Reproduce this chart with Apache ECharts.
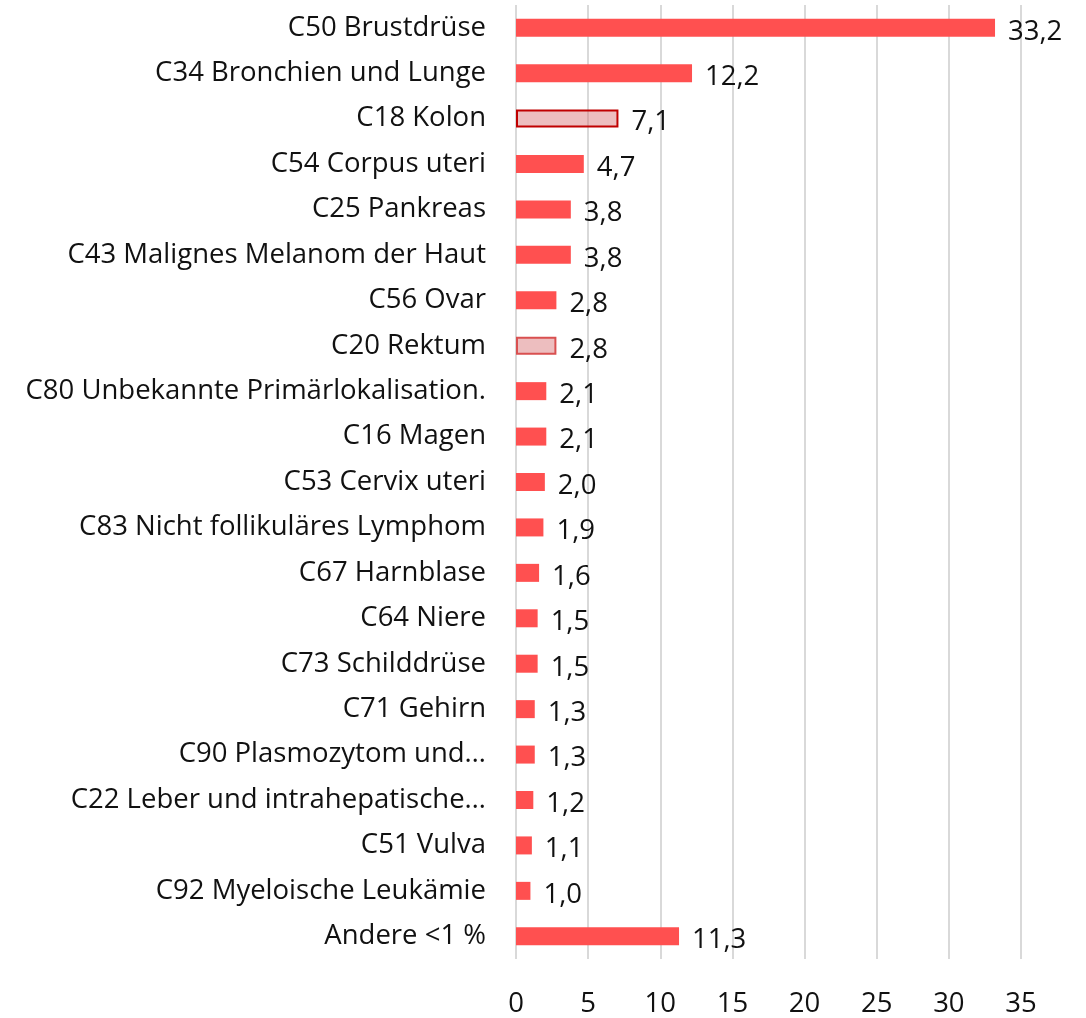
<!DOCTYPE html>
<html lang="de">
<head>
  <meta charset="UTF-8">
  <title>Krebsneuerkrankungen</title>
  <style>
    body{
      margin: 0;
      background-color: #fff;
    }
    #chart{
      width: 1086px;
      height: 1018px;
    }
  </style>
</head>
<body>
  <div id="chart"></div>
  <script src="https://cdn.jsdelivr.net/npm/echarts/dist/echarts.min.js"></script>
  <script>
// Lokalisationen, von oben nach unten
const categories = [
  'C50 Brustdrüse',
  'C34 Bronchien und Lunge',
  'C18 Kolon',
  'C54 Corpus uteri',
  'C25 Pankreas',
  'C43 Malignes Melanom der Haut',
  'C56 Ovar',
  'C20 Rektum',
  'C80 Unbekannte Primärlokalisation.',
  'C16 Magen',
  'C53 Cervix uteri',
  'C83 Nicht follikuläres Lymphom',
  'C67 Harnblase',
  'C64 Niere',
  'C73 Schilddrüse',
  'C71 Gehirn',
  'C90 Plasmozytom und…',
  'C22 Leber und intrahepatische…',
  'C51 Vulva',
  'C92 Myeloische Leukämie',
  'Andere <1 %'
];
const values = [33.2, 12.2, 7.1, 4.7, 3.8, 3.8, 2.8, 2.8, 2.1, 2.1, 2.0, 1.9, 1.6, 1.5, 1.5, 1.3, 1.3, 1.2, 1.1, 1.0, 11.3];
// hervorgehobene Balken (Darm)
const highlighted = ['C18 Kolon', 'C20 Rektum'];
const xTicks = [0, 5, 10, 15, 20, 25, 30, 35];

const font = 'Open Sans';
const fs = 27.5;
const chart = echarts.init(document.getElementById('chart'));

const barData = values.map((v, i) => {
  const name = categories[i];
  if (!highlighted.includes(name)) return v;
  return {
    value: v,
    itemStyle: {
      color: 'rgba(214, 110, 112, 0.45)',
      borderColor: name === 'C18 Kolon' ? '#c00000' : '#d95050',
      borderWidth: 2
    }
  };
});

chart.setOption({
  animation: false,
  grid: { left: 516, right: 65, top: 5, bottom: 57, containLabel: false },
  xAxis: {
    type: 'value',
    min: xTicks[0],
    max: xTicks[xTicks.length - 1],
    interval: 5,
    axisLine: { show: false },
    axisTick: { show: false },
    axisLabel: { margin: 31, fontSize: fs, fontFamily: font, color: '#111' },
    splitLine: { lineStyle: { color: '#d9d9d9', width: 2 } }
  },
  yAxis: {
    type: 'category',
    data: categories,
    inverse: true,
    axisLine: { show: false },
    axisTick: { show: false },
    axisLabel: { margin: 30, fontSize: fs, fontFamily: font, color: '#111' }
  },
  series: [{
    type: 'bar',
    data: barData,
    barWidth: 18,
    itemStyle: { color: '#ff5050' },
    label: {
      show: true,
      position: 'right',
      distance: 13,
      offset: [0, 4],
      fontSize: fs,
      fontFamily: font,
      color: '#111',
      formatter: p => p.value.toFixed(1).replace('.', ',')
    }
  }]
});
  </script>
</body>
</html>
